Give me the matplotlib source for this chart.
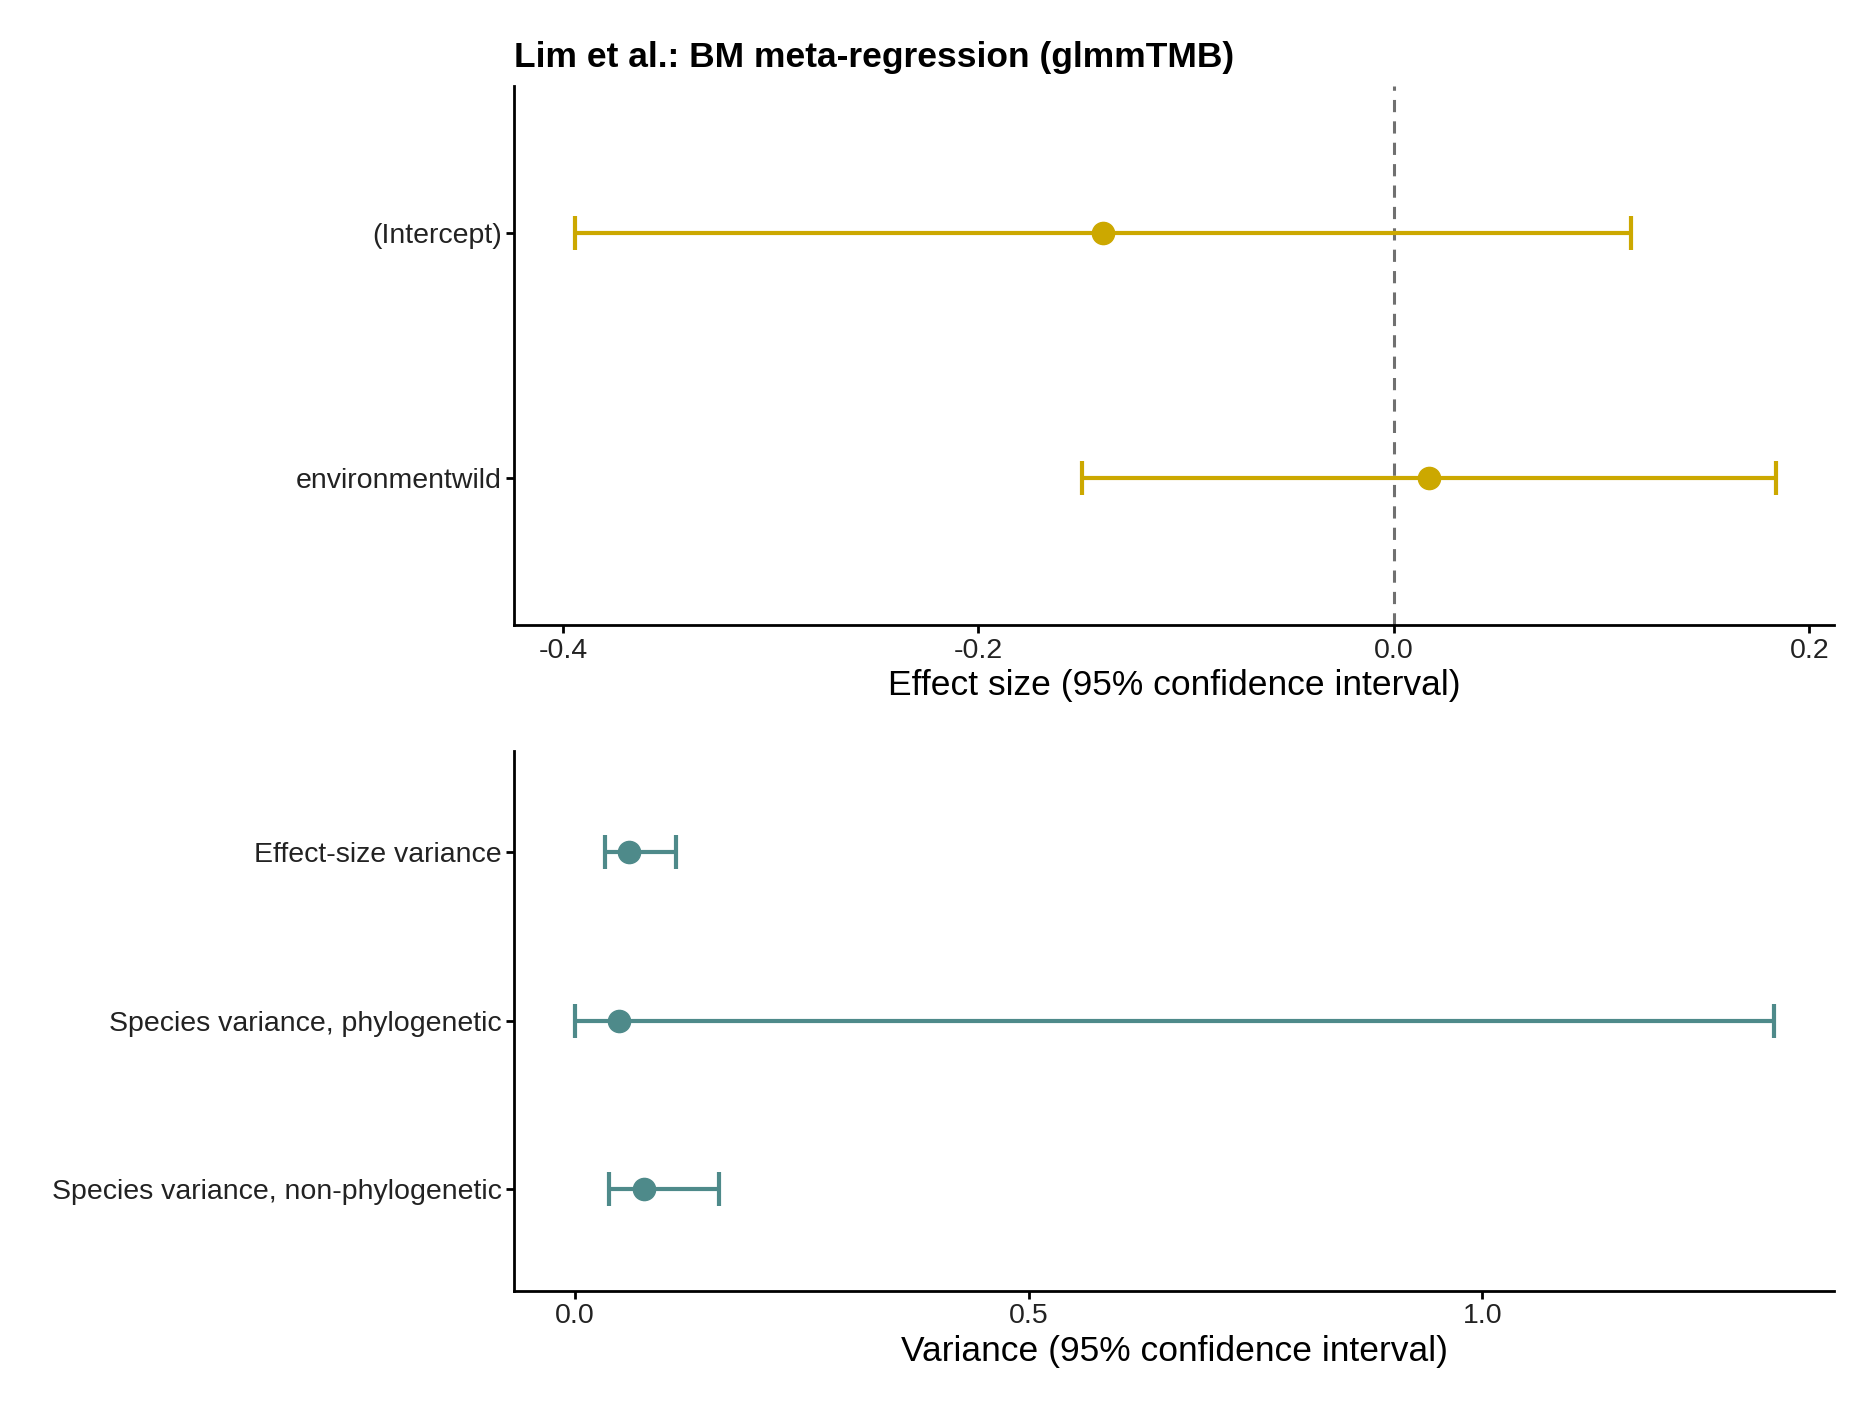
import matplotlib as mpl
mpl.use("Agg")
import matplotlib.pyplot as plt

plt.rcParams["font.family"] = ["Liberation Sans", "DejaVu Sans"]

# fixed effects
fe_terms = ["(Intercept)", "environmentwild"]
fe_est = [-0.140, 0.017]
fe_lo = [-0.394, -0.150]
fe_hi = [0.114, 0.184]

# variance components
vc_terms = ["Effect-size variance", "Species variance, phylogenetic",
            "Species variance, non-phylogenetic"]
vc_est = [0.060, 0.049, 0.076]
vc_lo = [0.033, 0.0, 0.038]
vc_hi = [0.112, 1.322, 0.159]

gold = "#CCA800"
teal = "#4E8A8A"

fig = plt.figure(figsize=(18.7, 14.08), dpi=100)
ax1 = fig.add_axes([0.2749, 0.5561, 0.706, 0.3827])
ax2 = fig.add_axes([0.2749, 0.0833, 0.706, 0.3835])


def draw(ax, terms, est, lo, hi, color):
    n = len(terms)
    ys = list(range(n, 0, -1))
    for y, e, l, h in zip(ys, est, lo, hi):
        ax.errorbar(e, y, xerr=[[e - l], [h - e]], fmt="o", color=color,
                    ecolor=color, elinewidth=3, capsize=12, capthick=3,
                    markersize=16, zorder=3)
    ax.set_yticks(ys)
    ax.set_yticklabels(terms)
    ax.set_ylim(0.4, n + 0.6)
    for s in ["top", "right"]:
        ax.spines[s].set_visible(False)
    for s in ["left", "bottom"]:
        ax.spines[s].set_linewidth(2)
    ax.tick_params(labelsize=20.5, width=2, length=6, pad=3, colors="black",
                   labelcolor="#222222")


draw(ax1, fe_terms, fe_est, fe_lo, fe_hi, gold)
ax1.axvline(0, color="#707070", linestyle=(0, (4, 3)), linewidth=2.2, zorder=1)
ax1.set_xlim(-0.4235, 0.212)
ax1.set_xticks([-0.4, -0.2, 0.0, 0.2])
ax1.set_xticklabels(["-0.4", "-0.2", "0.0", "0.2"])
ax1.set_xlabel("Effect size (95% confidence interval)", fontsize=25.5, labelpad=4)
ax1.set_title("Lim et al.: BM meta-regression (glmmTMB)", loc="left",
              fontsize=25.5, fontweight="bold", x=0.0, pad=14)

draw(ax2, vc_terms, vc_est, vc_lo, vc_hi, teal)
ax2.set_xlim(-0.067, 1.388)
ax2.set_xticks([0.0, 0.5, 1.0])
ax2.set_xticklabels(["0.0", "0.5", "1.0"])
ax2.set_xlabel("Variance (95% confidence interval)", fontsize=25.5, labelpad=4)

fig.savefig("out.png", dpi=100, facecolor="white")
